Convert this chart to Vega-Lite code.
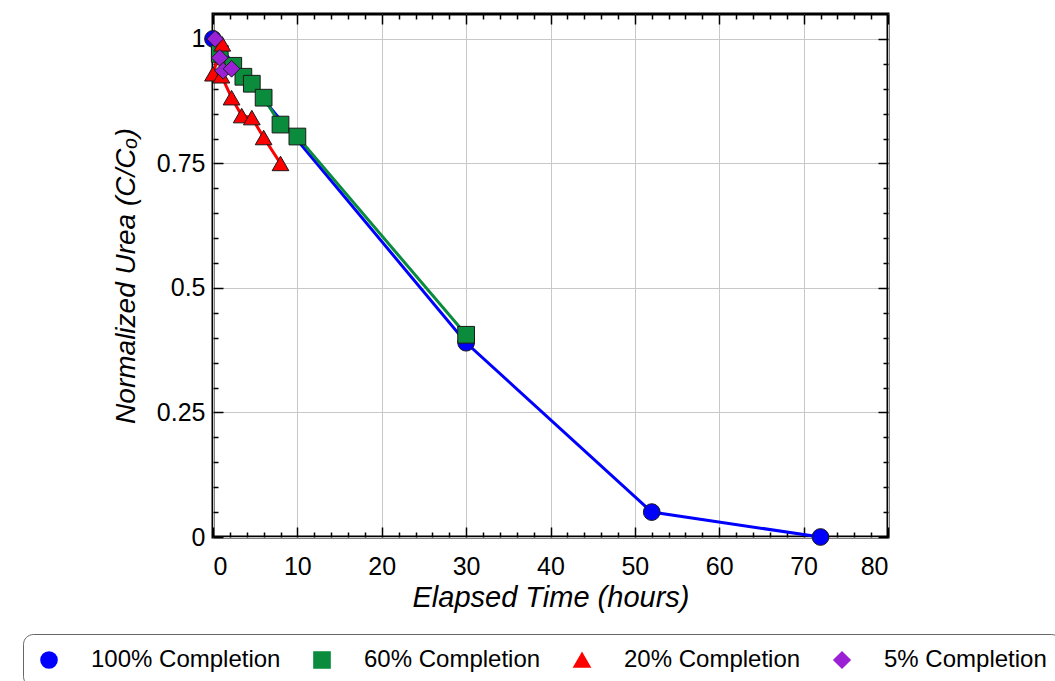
{
  "$schema": "https://vega.github.io/schema/vega-lite/v6.json",
  "width": 675,
  "height": 523,
  "autosize": {"type": "none"},
  "padding": {"left": 213, "top": 14, "right": 167, "bottom": 144},
  "background": "white",
  "config": {
    "font": "Liberation Sans",
    "view": {"stroke": "black", "strokeWidth": 3},
    "axis": {"labelFont": "Liberation Sans", "titleFont": "Liberation Sans", "labelColor": "black", "titleColor": "black", "tickColor": "black", "tickWidth": 1.5, "domain": false},
    "legend": {
      "orient": "none", "legendX": -190, "legendY": 620, "direction": "horizontal", "columns": 4,
      "strokeColor": "#666", "cornerRadius": 10, "padding": 14, "fillColor": "white",
      "labelFont": "Liberation Sans", "labelFontSize": 24, "labelColor": "black", "labelLimit": 0,
      "symbolSize": 260, "labelOffset": 30, "columnPadding": 29, "symbolStrokeWidth": 1.5, "symbolStrokeColor": "#1a1a1a"
    }
  },
  "data": {
    "values": [
      {"series": "100% Completion", "seq": 1, "time": 0, "c": 1.0},
      {"series": "100% Completion", "seq": 2, "time": 30, "c": 0.39},
      {"series": "100% Completion", "seq": 3, "time": 52, "c": 0.05},
      {"series": "100% Completion", "seq": 4, "time": 72, "c": 0.0},
      {"series": "60% Completion", "seq": 1, "time": 0.8, "c": 0.97},
      {"series": "60% Completion", "seq": 2, "time": 2.4, "c": 0.946},
      {"series": "60% Completion", "seq": 3, "time": 3.6, "c": 0.924},
      {"series": "60% Completion", "seq": 4, "time": 4.6, "c": 0.91},
      {"series": "60% Completion", "seq": 5, "time": 6.0, "c": 0.882},
      {"series": "60% Completion", "seq": 6, "time": 8.0, "c": 0.828},
      {"series": "60% Completion", "seq": 7, "time": 10.0, "c": 0.804},
      {"series": "60% Completion", "seq": 8, "time": 30, "c": 0.406},
      {"series": "20% Completion", "seq": 1, "time": 1.1, "c": 0.99},
      {"series": "20% Completion", "seq": 2, "time": 0, "c": 0.93},
      {"series": "20% Completion", "seq": 3, "time": 1.0, "c": 0.926},
      {"series": "20% Completion", "seq": 4, "time": 2.2, "c": 0.882},
      {"series": "20% Completion", "seq": 5, "time": 3.4, "c": 0.846},
      {"series": "20% Completion", "seq": 6, "time": 4.6, "c": 0.842},
      {"series": "20% Completion", "seq": 7, "time": 6.0, "c": 0.802},
      {"series": "20% Completion", "seq": 8, "time": 8.0, "c": 0.75},
      {"series": "5% Completion", "seq": 1, "time": 0.25, "c": 1.0},
      {"series": "5% Completion", "seq": 2, "time": 0.8, "c": 0.962},
      {"series": "5% Completion", "seq": 3, "time": 1.2, "c": 0.936},
      {"series": "5% Completion", "seq": 4, "time": 2.2, "c": 0.94}
    ]
  },
  "resolve": {"axis": {"x": "independent", "y": "independent"}},
  "layer": [
    {
      "mark": {"type": "line", "strokeWidth": 3},
      "encoding": {
        "x": {"field": "time", "type": "quantitative", "scale": {"domain": [0, 80], "nice": false},
          "axis": {"orient": "top", "title": null, "labels": false, "grid": false,
            "values": [0,2,4,6,8,10,12,14,16,18,20,22,24,26,28,30,32,34,36,38,40,42,44,46,48,50,52,54,56,58,60,62,64,66,68,70,72,74,76,78,80],
            "tickSize": {"condition": {"test": "datum.value % 10 === 0", "value": -10}, "value": -5}}},
        "y": {"field": "c", "type": "quantitative", "scale": {"domain": [0, 1.05], "nice": false, "zero": false},
          "axis": {"orient": "right", "title": null, "labels": false, "grid": false,
            "values": [0,0.05,0.1,0.15,0.2,0.25,0.3,0.35,0.4,0.45,0.5,0.55,0.6,0.65,0.7,0.75,0.8,0.85,0.9,0.95,1.0],
            "tickSize": {"condition": {"test": "abs(datum.value*4 - round(datum.value*4)) < 0.001", "value": -10}, "value": -5}}},
        "color": {"field": "series", "type": "nominal",
          "scale": {"domain": ["100% Completion", "60% Completion", "20% Completion", "5% Completion"],
                    "range": ["#0000ff", "#0a8c3c", "#ff0000", "#9a22d4"]},
          "legend": {"title": null}},
        "order": {"field": "seq", "type": "quantitative"}
      }
    },
    {
      "mark": {"type": "point", "filled": true, "size": 280, "opacity": 1, "stroke": "#1a1a1a", "strokeWidth": 1},
      "encoding": {
        "x": {"field": "time", "type": "quantitative",
          "axis": {"orient": "bottom", "title": "Elapsed Time (hours)", "titleFontSize": 29, "titleFontStyle": "italic", "titleFontWeight": "normal", "titlePadding": 4,
            "labelFontSize": 25, "labelPadding": 27,
            "values": [0,2,4,6,8,10,12,14,16,18,20,22,24,26,28,30,32,34,36,38,40,42,44,46,48,50,52,54,56,58,60,62,64,66,68,70,72,74,76,78,80],
            "labelExpr": "datum.value % 10 === 0 ? datum.label : ''",
            "grid": true, "gridColor": "#c8c8c8", "gridWidth": 1,
            "gridOpacity": {"condition": {"test": "datum.value % 10 === 0", "value": 1}, "value": 0},
            "tickSize": {"condition": {"test": "datum.value % 10 === 0", "value": -10}, "value": -5}}},
        "y": {"field": "c", "type": "quantitative",
          "axis": {"orient": "left", "title": "Normalized Urea (C/Cₒ)", "titleFontSize": 28, "titleFontStyle": "italic", "titleFontWeight": "normal", "titlePadding": 16,
            "labelFontSize": 25, "labelPadding": 18, "format": "~g",
            "values": [0,0.05,0.1,0.15,0.2,0.25,0.3,0.35,0.4,0.45,0.5,0.55,0.6,0.65,0.7,0.75,0.8,0.85,0.9,0.95,1.0],
            "labelExpr": "abs(datum.value*4 - round(datum.value*4)) < 0.001 ? datum.label : ''",
            "grid": true, "gridColor": "#c8c8c8", "gridWidth": 1,
            "gridOpacity": {"condition": {"test": "abs(datum.value*4 - round(datum.value*4)) < 0.001", "value": 1}, "value": 0},
            "tickSize": {"condition": {"test": "abs(datum.value*4 - round(datum.value*4)) < 0.001", "value": -10}, "value": -5}}},
        "color": {"field": "series", "type": "nominal",
          "scale": {"domain": ["100% Completion", "60% Completion", "20% Completion", "5% Completion"],
                    "range": ["#0000ff", "#0a8c3c", "#ff0000", "#9a22d4"]},
          "legend": {"title": null}},
        "shape": {"field": "series", "type": "nominal", "legend": null,
          "scale": {"domain": ["100% Completion", "60% Completion", "20% Completion", "5% Completion"],
                    "range": ["circle", "square", "triangle-up", "diamond"]}}
      }
    }
  ]
}
